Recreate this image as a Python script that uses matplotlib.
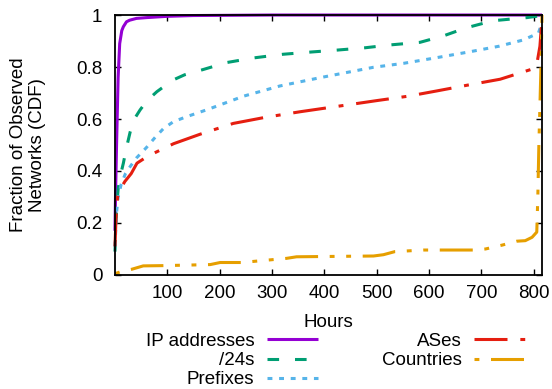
import matplotlib
matplotlib.use("Agg")
import matplotlib.pyplot as plt

# ── data ──
ip_x = [0, 1, 3, 6, 9, 13, 16, 22, 28, 41, 60, 100, 150, 300, 816]
ip_y = [0.17, 0.3, 0.5, 0.76, 0.89, 0.94, 0.955, 0.974, 0.98, 0.987, 0.99, 0.995, 0.998, 1.0, 1.0]

s24_x = [0, 3, 6, 10, 16, 22, 29, 37, 48, 61, 80, 97, 111, 133, 168, 213, 265, 321,
         377, 424, 478, 526, 583, 628, 670, 722, 787, 805, 816]
s24_y = [0.09, 0.25, 0.33, 0.38, 0.43, 0.49, 0.55, 0.6, 0.635, 0.67, 0.705, 0.73, 0.75,
         0.77, 0.79, 0.817, 0.835, 0.849, 0.858, 0.865, 0.874, 0.885, 0.895, 0.92,
         0.95, 0.978, 0.99, 0.995, 1.0]

pfx_x = [0, 3, 6, 12, 20, 29, 41, 60, 77, 93, 112, 137, 179, 246, 315, 392, 494,
         551, 612, 679, 734, 780, 809, 816]
pfx_y = [0.11, 0.24, 0.3, 0.35, 0.39, 0.417, 0.45, 0.49, 0.53, 0.564, 0.59, 0.609,
         0.638, 0.688, 0.727, 0.759, 0.799, 0.814, 0.835, 0.859, 0.88, 0.904, 0.93, 0.97]

as_x = [0, 2, 5, 10, 19, 31, 42, 61, 80, 112, 162, 226, 286, 354, 450, 501, 561,
        615, 673, 736, 794, 806, 812, 815, 816]
as_y = [0.11, 0.22, 0.3, 0.33, 0.36, 0.39, 0.43, 0.455, 0.474, 0.505, 0.541, 0.583,
        0.606, 0.628, 0.656, 0.671, 0.688, 0.708, 0.73, 0.753, 0.79, 0.81, 0.88,
        0.96, 1.0]

cc_x = [0, 10, 32, 54, 92, 182, 201, 242, 328, 347, 494, 513, 535, 590, 685, 708,
        740, 768, 784, 797, 806, 808, 810, 812, 814, 816]
cc_y = [0.005, 0.012, 0.022, 0.035, 0.036, 0.04, 0.048, 0.048, 0.064, 0.07, 0.073,
        0.078, 0.09, 0.096, 0.096, 0.10, 0.115, 0.13, 0.132, 0.145, 0.165, 0.3,
        0.5, 0.65, 0.8, 1.0]

labels = ["IP addresses", "/24s", "Prefixes", "ASes", "Countries"]
x_ticks = [100, 200, 300, 400, 500, 600, 700, 800]
y_ticks = [0, 0.2, 0.4, 0.6, 0.8, 1.0]
y_tick_labels = ["0", "0.2", "0.4", "0.6", "0.8", "1"]

plt.rcParams["font.family"] = ["Liberation Sans", "DejaVu Sans"]
plt.rcParams["font.size"] = 13.5

fig = plt.figure(figsize=(5.52, 3.89), dpi=100)
ax = fig.add_axes([0.2083, 0.2931, 0.9819 - 0.2083, 0.9614 - 0.2931])

lw = 2.2
series = [
    (ip_x, ip_y, "#9400d3", "-"),
    (s24_x, s24_y, "#009e73", (0, (3.8, 5.2))),
    (pfx_x, pfx_y, "#56b4e9", (0, (1.6, 2.2))),
    (as_x, as_y, "#e51e10", (0, (10.8, 4.2, 1.6, 4.2))),
    (cc_x, cc_y, "#e69f00", (20, (10.8, 3.8, 1.6, 3.8, 1.6, 3.8))),
]
for (xs, ys, col, ls), lab in zip(series, labels):
    ax.plot(xs, ys, color=col, linestyle=ls, lw=lw, label=lab, clip_on=False,
            solid_capstyle="butt", dash_capstyle="butt")

ax.set_xlim(0, 816)
ax.set_ylim(0, 1)
ax.set_xticks(x_ticks)
ax.set_yticks(y_ticks)
ax.set_yticklabels(y_tick_labels)
ax.tick_params(direction="in", length=4, width=1, top=True, right=True)
ax.tick_params(axis="y", pad=9)
ax.tick_params(axis="x", pad=7)
for sp in ax.spines.values():
    sp.set_linewidth(1.3)

ax.set_xlabel("Hours", labelpad=9)
ax.set_ylabel("Fraction of Observed\nNetworks (CDF)", linespacing=1.1, labelpad=22)

handles, labs = ax.get_legend_handles_labels()
fig.legend(handles, labs, ncol=2, loc="upper center", bbox_to_anchor=(0.608, 0.145),
           frameon=False, markerfirst=False, handlelength=2.75, handletextpad=0.65,
           columnspacing=3.4, labelspacing=0.12, borderpad=0, borderaxespad=0)

fig.savefig("out.png", dpi=100)
